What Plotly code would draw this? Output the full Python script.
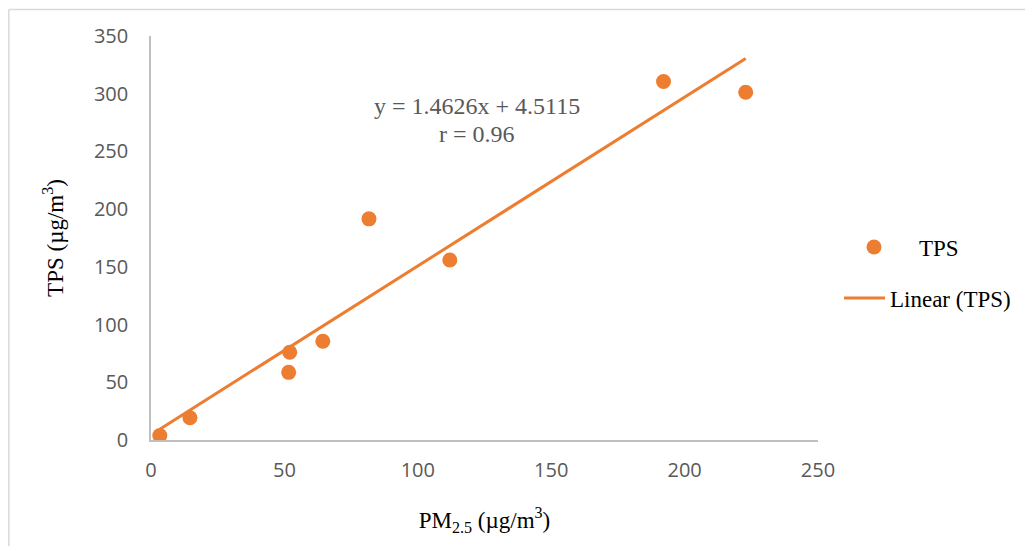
import numpy as np
import plotly.graph_objects as go

# Data
pm25 = [3.3, 14.6, 51.6, 52.0, 64.4, 81.7, 112.0, 192.1, 222.9]
tps = [3.9, 19.3, 58.6, 76.0, 85.6, 191.6, 155.9, 310.6, 301.3]
slope = 1.4626
intercept = 4.5115
r_value = 0.96
x_ticks = [0, 50, 100, 150, 200, 250]
y_ticks = [0, 50, 100, 150, 200, 250, 300, 350]

ORANGE = "#ED7D31"
GRAY_TXT = "#595959"
AXIS_GRAY = "#BFBFBF"
SERIF = "Liberation Serif, Times New Roman, serif"
SANS = "Open Sans, Liberation Sans, sans-serif"

trend_x = np.array([min(pm25), max(pm25)])
trend_y = slope * trend_x + intercept

fig = go.Figure()
fig.add_trace(go.Scatter(
    x=pm25, y=tps, mode="markers", name="TPS",
    marker=dict(color=ORANGE, size=15, line=dict(width=0)),
    legend="legend",
))
fig.add_trace(go.Scatter(
    x=trend_x, y=trend_y, mode="lines", name="Linear (TPS)",
    line=dict(color=ORANGE, width=3),
    legend="legend2",
))

# page has an 8px body margin
OFF = 8
W, H = 1033 - OFF, 546 - OFF
PL, PR, PT, PB = 151, 818, 36, 440   # plot area in page pixels
L, R, T, B = PL - OFF, 1033 - PR, PT - OFF, 546 - PB
pw, ph = PR - PL, PB - PT

def px2paper_x(px):
    return (px - PL) / pw

def px2paper_y(py):
    return (PB - py) / ph

fig.update_layout(
    width=W, height=H,
    margin=dict(l=L, r=R, t=T, b=B),
    paper_bgcolor="white", plot_bgcolor="white",
    showlegend=True,
    legend=dict(
        x=px2paper_x(829), y=px2paper_y(247), xanchor="left", yanchor="middle",
        font=dict(family=SERIF, size=23, color="black"),
        bgcolor="rgba(0,0,0,0)", itemwidth=80,
    ),
    legend2=dict(
        x=px2paper_x(839), y=px2paper_y(298), xanchor="left", yanchor="middle",
        font=dict(family=SERIF, size=23, color="black"),
        bgcolor="rgba(0,0,0,0)", itemwidth=41,
    ),
    xaxis=dict(
        range=[0, 250], tickvals=x_ticks, showgrid=False, zeroline=False,
        showline=True, linecolor=AXIS_GRAY, linewidth=1.5,
        ticks="", tickfont=dict(family=SANS, size=20, color=GRAY_TXT),
        ticklabelstandoff=11,
        title=dict(text="PM<sub>2.5</sub> (µg/m<sup>3</sup>)", standoff=30,
                   font=dict(family=SERIF, size=23, color="black")),
    ),
    yaxis=dict(
        range=[0, 350], tickvals=y_ticks, showgrid=False, zeroline=False,
        showline=True, linecolor=AXIS_GRAY, linewidth=1.5,
        ticks="", tickfont=dict(family=SANS, size=20, color=GRAY_TXT),
        ticklabelstandoff=17,
        title=dict(text="TPS (µg/m<sup>3</sup>)", standoff=24,
                   font=dict(family=SERIF, size=23, color="black")),
    ),
    annotations=[
        dict(text=f"y = {slope}x + {intercept}", xref="paper", yref="paper",
             x=px2paper_x(477), y=px2paper_y(106), showarrow=False,
             xanchor="center", yanchor="middle",
             font=dict(family=SERIF, size=24, color=GRAY_TXT)),
        dict(text=f"r = {r_value}", xref="paper", yref="paper",
             x=px2paper_x(477), y=px2paper_y(134), showarrow=False,
             xanchor="center", yanchor="middle",
             font=dict(family=SERIF, size=24, color=GRAY_TXT)),
    ],
    shapes=[
        dict(type="line", xref="paper", yref="paper",
             x0=px2paper_x(8.8), x1=px2paper_x(8.8), y0=px2paper_y(9.5), y1=px2paper_y(560),
             line=dict(color="#D9D9D9", width=1.5)),
        dict(type="line", xref="paper", yref="paper",
             x0=px2paper_x(8.8), x1=px2paper_x(1050), y0=px2paper_y(9.5), y1=px2paper_y(9.5),
             line=dict(color="#D9D9D9", width=1.5)),
    ],
)

fig.write_html("out.html")
